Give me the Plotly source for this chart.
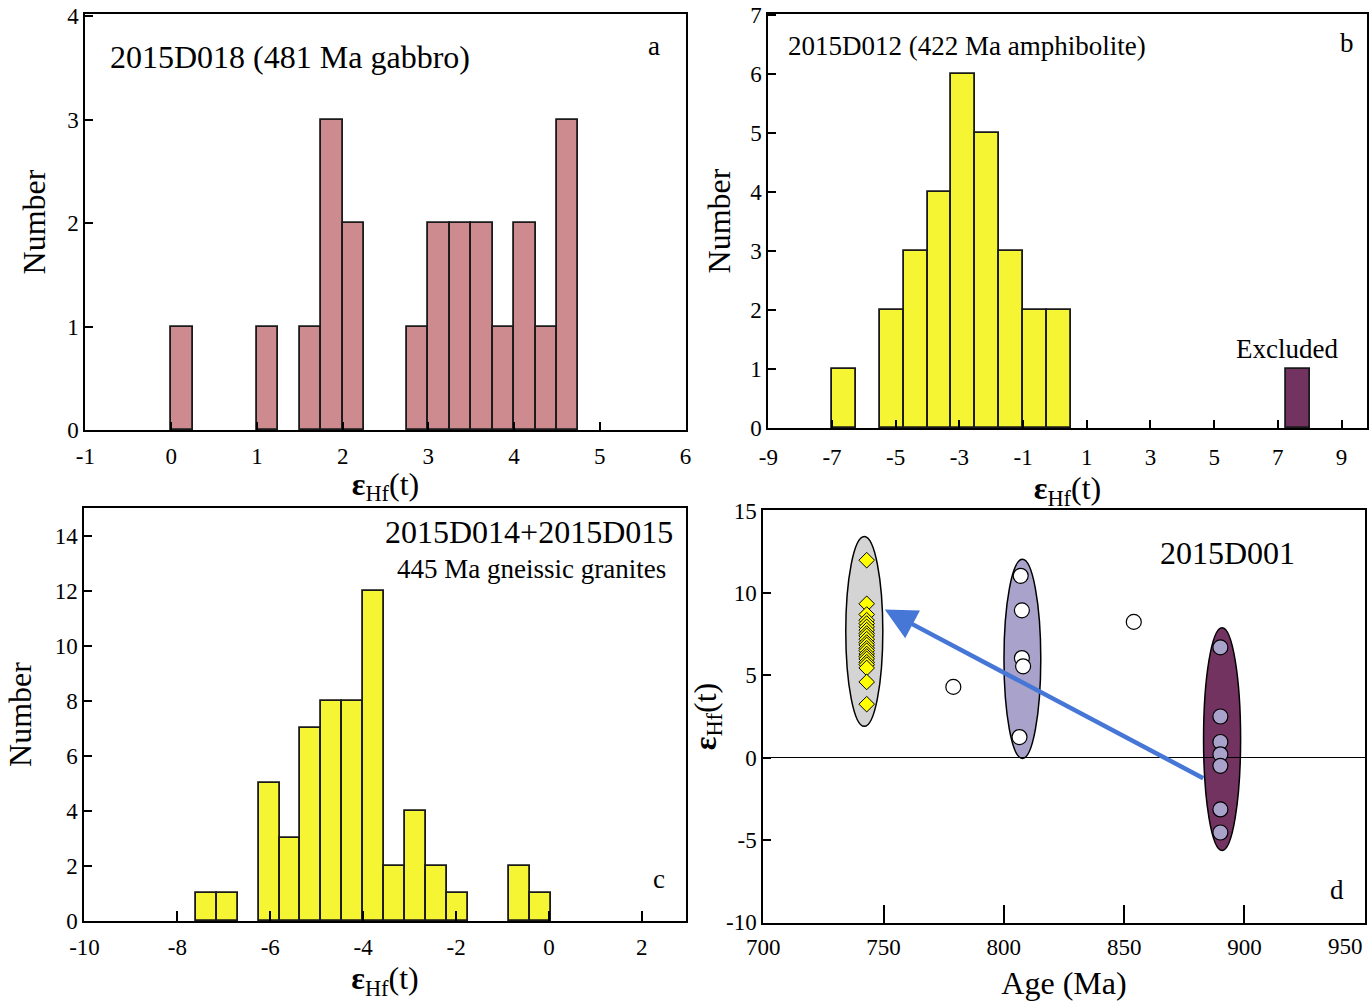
import plotly.graph_objects as go

# ---------------- data ----------------
# Panel a: 2015D018 (481 Ma gabbro)
a_bin_start = 0.0
a_bin_width = 0.25
a_counts = [1, 0, 0, 0, 1, 0, 1, 3, 2, 0, 0, 1, 2, 2, 2, 1, 2, 1, 3]
a_xticks = [-1, 0, 1, 2, 3, 4, 5, 6]
a_yticks = [0, 1, 2, 3, 4]

# Panel b: 2015D012 (422 Ma amphibolite)
b_bin_start = -7.0
b_bin_width = 0.75
b_counts = [1, 0, 2, 3, 4, 6, 5, 3, 2, 2]
b_excl_start = [7.25]
b_excl_counts = [1]
b_xticks = [-9, -7, -5, -3, -1, 1, 3, 5, 7, 9]
b_yticks = [0, 1, 2, 3, 4, 5, 6, 7]

# Panel c: 2015D014+2015D015 (445 Ma gneissic granites)
c_bin_start = -7.6
c_bin_width = 0.45
c_counts = [1, 1, 0, 5, 3, 7, 8, 8, 12, 2, 4, 2, 1, 0, 0, 2, 1]
c_xticks = [-10, -8, -6, -4, -2, 0, 2]
c_yticks = [0, 2, 4, 6, 8, 10, 12, 14]

# Panel d: 2015D001
diamond_age = [743] * 22
diamond_ehf = [12.0, 9.35, 8.7, 8.35, 8.15, 7.95, 7.75, 7.55, 7.4, 7.2, 7.0,
               6.85, 6.65, 6.5, 6.3, 6.15, 6.0, 5.8, 5.65, 5.45, 4.6, 3.25]
white_age = [807, 807.5, 807.5, 808, 806.5, 779, 854]
white_ehf = [11.05, 8.95, 6.05, 5.55, 1.25, 4.3, 8.25]
lav_age = [890, 890, 890, 890, 890, 890, 890]
lav_ehf = [6.7, 2.5, 0.95, 0.2, -0.5, -3.15, -4.55]
d_xticks = [700, 750, 800, 850, 900, 950]
d_yticks = [-10, -5, 0, 5, 10, 15]

ell_cx = [742.0, 807.7, 890.7]
ell_cy = [7.67, 6.0, 1.13]
ell_rx = [7.7, 7.65, 7.7]
ell_ry = [5.77, 6.05, 6.77]
ell_color = ["#d4d4d4", "#a9a3cb", "#733360"]

arrow_tail = (883.5, -1.3)
arrow_tip = (750.5, 9.0)

# ---------------- style ----------------
FONT = "Liberation Serif"
W, H = 1369, 1001
ROSE = "#cd8b8f"
YEL = "#f5f534"
PURP = "#733360"


def dom_x(l, r):
    return [l / W, r / W]


def dom_y(t, b):
    return [1 - b / H, 1 - t / H]


def centers(start, width, counts):
    xs, ys = [], []
    for i, c in enumerate(counts):
        if c > 0:
            xs.append(start + width * (i + 0.5))
            ys.append(c)
    return xs, ys


def lab(vals):
    return [str(v) for v in vals]


fig = go.Figure()

ax, ay = centers(a_bin_start, a_bin_width, a_counts)
fig.add_trace(go.Bar(x=ax, y=ay, width=a_bin_width, marker=dict(color=ROSE, line=dict(color="#1a1a1a", width=1.8)),
                     xaxis="x", yaxis="y", showlegend=False))

bx, by = centers(b_bin_start, b_bin_width, b_counts)
fig.add_trace(go.Bar(x=bx, y=by, width=b_bin_width, marker=dict(color=YEL, line=dict(color="#1a1a1a", width=1.8)),
                     xaxis="x2", yaxis="y2", showlegend=False))
ex = [s + b_bin_width / 2 for s in b_excl_start]
fig.add_trace(go.Bar(x=ex, y=b_excl_counts, width=b_bin_width, marker=dict(color=PURP, line=dict(color="#1a1a1a", width=1.8)),
                     xaxis="x2", yaxis="y2", showlegend=False))

cx, cy = centers(c_bin_start, c_bin_width, c_counts)
fig.add_trace(go.Bar(x=cx, y=cy, width=c_bin_width, marker=dict(color=YEL, line=dict(color="#1a1a1a", width=1.8)),
                     xaxis="x3", yaxis="y3", showlegend=False))

# panel d markers
fig.add_trace(go.Scatter(x=white_age, y=white_ehf, mode="markers", xaxis="x4", yaxis="y4", showlegend=False,
                         marker=dict(symbol="circle", size=15, color="white", line=dict(color="black", width=1.2))))
fig.add_trace(go.Scatter(x=lav_age, y=lav_ehf, mode="markers", xaxis="x4", yaxis="y4", showlegend=False,
                         marker=dict(symbol="circle", size=15, color="#a9a3cb", line=dict(color="black", width=1.2))))
fig.add_trace(go.Scatter(x=diamond_age, y=diamond_ehf, mode="markers", xaxis="x4", yaxis="y4", showlegend=False,
                         marker=dict(symbol="diamond", size=12, color="#ffff00", line=dict(color="black", width=1))))

shapes = []
for x0, y0, rx, ry, col in zip(ell_cx, ell_cy, ell_rx, ell_ry, ell_color):
    shapes.append(dict(type="circle", xref="x4", yref="y4", x0=x0 - rx, x1=x0 + rx, y0=y0 - ry, y1=y0 + ry,
                       fillcolor=col, line=dict(color="black", width=1.5), layer="below"))

ehf = "<b>ε</b><sub>Hf</sub>(t)"
tickfont = dict(family=FONT, size=23, color="black")
titlefont = dict(family=FONT, size=32, color="black")


def xaxis(dom, rng, ticks, anchor, title, ticklen=8, standoff=8, lstand=6, text=None):
    return dict(domain=dom, range=rng, tickmode="array", tickvals=ticks, ticktext=text or lab(ticks), anchor=anchor,
                showline=True, linecolor="black",
                linewidth=1.5, mirror=True, ticks="inside", ticklen=ticklen, tickwidth=1.5, tickcolor="black",
                showgrid=False, zeroline=False, tickfont=tickfont, ticklabelstandoff=lstand,
                ticklabeloverflow="allow",
                title=dict(text=title, font=titlefont, standoff=standoff), automargin=False)


def yaxis(dom, rng, ticks, anchor, title, standoff=10):
    return dict(domain=dom, range=rng, tickmode="array", tickvals=ticks, ticktext=lab(ticks), anchor=anchor,
                showline=True, linecolor="black",
                linewidth=1.5, mirror=True, ticks="inside", ticklen=8, tickwidth=1.5, tickcolor="black",
                showgrid=False, zeroline=False, tickfont=tickfont, ticklabeloverflow="allow",
                title=dict(text=title, font=titlefont, standoff=standoff), automargin=False)


# last Age label is drawn right-aligned at the axis end (as in the original) so it stays inside the page
d_xtext = lab(d_xticks)
d_last_label = d_xtext[-1]
d_xtext[-1] = ""

d_dom_y = dom_y(510, 923)

fig.update_layout(
    width=W, height=H, margin=dict(l=0, r=0, t=0, b=0),
    paper_bgcolor="white", plot_bgcolor="white", bargap=0,
    font=dict(family=FONT, color="black"),
    xaxis=xaxis(dom_x(85, 686), [-1.005, 6.005], a_xticks, "y", ehf, standoff=4, lstand=5),
    yaxis=yaxis(dom_y(14, 430), [0, 4.02], a_yticks, "x", "Number", standoff=12),
    xaxis2=xaxis(dom_x(768, 1367), [-9.01, 9.8], b_xticks, "y2", ehf, standoff=6, lstand=8),
    yaxis2=yaxis(dom_y(14, 428), [0, 7.02], b_yticks, "x2", "Number", standoff=10),
    xaxis3=xaxis(dom_x(84, 686), [-10.01, 2.95], c_xticks, "y3", ehf, ticklen=10, standoff=12, lstand=5),
    yaxis3=yaxis(dom_y(508, 921), [0, 15], c_yticks, "x3", "Number", standoff=13),
    xaxis4=xaxis(dom_x(763, 1365), [699.9, 950.1], d_xticks, "y4", "Age (Ma)", ticklen=18, standoff=16, lstand=3,
                 text=d_xtext),
    yaxis4=yaxis(d_dom_y, [-10.05, 15.05], d_yticks, "x4", ehf, standoff=0),
    shapes=shapes,
)
fig.layout.yaxis4.zeroline = True
fig.layout.yaxis4.zerolinecolor = "black"
fig.layout.yaxis4.zerolinewidth = 1.2

ann = []
big = dict(family=FONT, size=32, color="black")
mid = dict(family=FONT, size=27, color="black")
let = dict(family=FONT, size=27, color="black")
ann.append(dict(xref="x domain", yref="y domain", x=0.038, y=0.897, text="2015D018 (481 Ma gabbro)",
                showarrow=False, xanchor="left", yanchor="middle", font=big))
ann.append(dict(xref="x domain", yref="y domain", x=0.947, y=0.923, text="a", showarrow=False,
                xanchor="center", yanchor="middle", font=let))
ann.append(dict(xref="x2 domain", yref="y2 domain", x=0.030, y=0.923, text="2015D012 (422 Ma amphibolite)",
                showarrow=False, xanchor="left", yanchor="middle", font=mid))
ann.append(dict(xref="x2 domain", yref="y2 domain", x=0.967, y=0.93, text="b", showarrow=False,
                xanchor="center", yanchor="middle", font=let))
ann.append(dict(xref="x2", yref="y2", x=ex[0] - 0.35, y=1.34, text="Excluded", showarrow=False,
                xanchor="center", yanchor="middle", font=mid))
ann.append(dict(xref="x3 domain", yref="y3 domain", x=0.982, y=0.942, text="2015D014+2015D015",
                showarrow=False, xanchor="right", yanchor="middle", font=big))
ann.append(dict(xref="x3 domain", yref="y3 domain", x=0.970, y=0.852, text="445 Ma gneissic granites",
                showarrow=False, xanchor="right", yanchor="middle", font=mid))
ann.append(dict(xref="x3 domain", yref="y3 domain", x=0.955, y=0.102, text="c", showarrow=False,
                xanchor="center", yanchor="middle", font=let))
ann.append(dict(xref="x4 domain", yref="y4 domain", x=0.772, y=0.896, text="2015D001", showarrow=False,
                xanchor="center", yanchor="middle", font=big))
ann.append(dict(xref="x4 domain", yref="y4 domain", x=0.953, y=0.080, text="d", showarrow=False,
                xanchor="center", yanchor="middle", font=let))
ann.append(dict(xref="x4", yref="paper", x=d_xticks[-1], y=d_dom_y[0], yshift=-9, text=d_last_label,
                showarrow=False, xanchor="right", yanchor="top", font=tickfont))
ann.append(dict(xref="x4", yref="y4", axref="x4", ayref="y4", x=arrow_tip[0], y=arrow_tip[1],
                ax=arrow_tail[0], ay=arrow_tail[1], text="", showarrow=True, arrowhead=2, arrowsize=1.4,
                arrowwidth=4.5, arrowcolor="#4677d6", standoff=0, startstandoff=0))
fig.update_layout(annotations=ann)

fig.write_html("out.html")
